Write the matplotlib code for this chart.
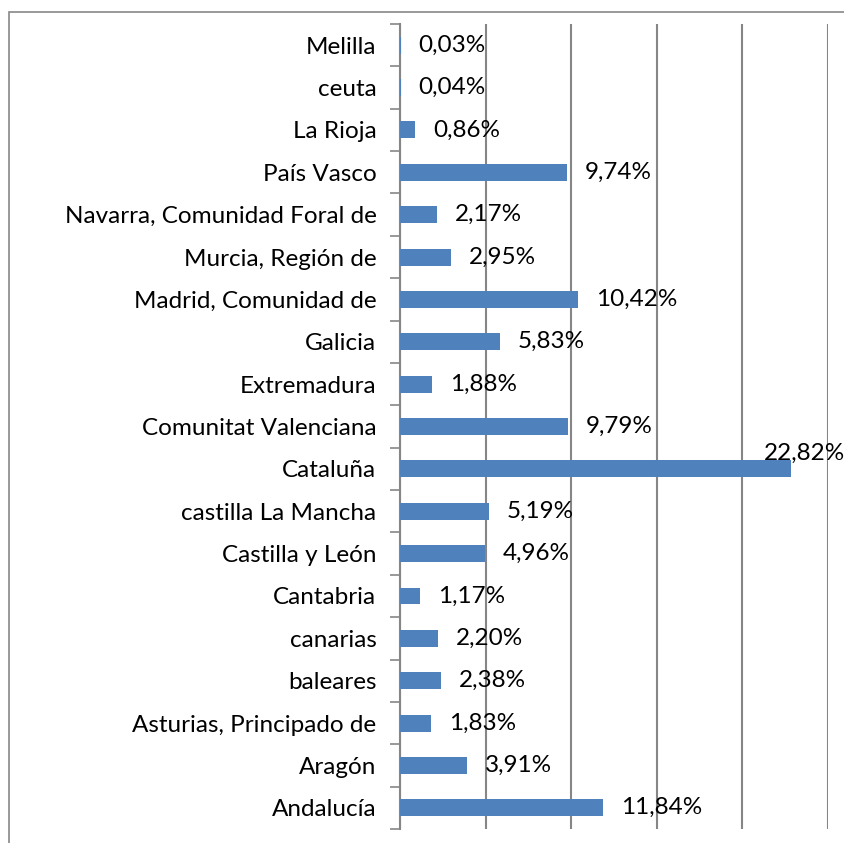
"""Horizontal bar chart: share per comunidad autónoma."""

import matplotlib
matplotlib.use("Agg")
import matplotlib.pyplot as plt
from matplotlib.patches import Rectangle

# Categories listed bottom-to-top as they appear on the axis
REGIONS = [
    "Andalucía", "Aragón", "Asturias, Principado de", "baleares", "canarias",
    "Cantabria", "Castilla y León", "castilla La Mancha", "Cataluña",
    "Comunitat Valenciana", "Extremadura", "Galicia", "Madrid, Comunidad de",
    "Murcia, Región de", "Navarra, Comunidad Foral de", "País Vasco",
    "La Rioja", "ceuta", "Melilla",
]
SHARES = [
    11.84, 3.91, 1.83, 2.38, 2.20, 1.17, 4.96, 5.19, 22.82,
    9.79, 1.88, 5.83, 10.42, 2.95, 2.17, 9.74, 0.86, 0.04, 0.03,
]
X_TICKS = [0, 5, 10, 15, 20, 25]

BAR_COLOR = "#4F81BD"
GRID_COLOR = "#868686"
FONT_SIZE = 17.5

plt.rcParams["font.family"] = ["Lato", "DejaVu Sans"]

W, H = 844, 843
fig = plt.figure(figsize=(W / 100, H / 100), dpi=100)
ax = fig.add_axes([400 / W, 1 - 829 / H, (828 - 400) / W, (829 - 24) / H])

positions = list(range(len(REGIONS)))
ax.barh(positions, SHARES, height=0.4, color=BAR_COLOR, zorder=3)

for pos, val in zip(positions, SHARES):
    label = f"{val:.2f}".replace(".", ",") + "%"
    # labels that would run past the plot area sit above the bar end
    offset = (-19, 11) if val > 20 else (13, 0)
    ax.annotate(label, xy=(val, pos), xytext=offset, textcoords="offset points",
                ha="left", va="center", fontsize=FONT_SIZE, color="black", zorder=4)

ax.set_xlim(0, 25)
ax.set_ylim(-0.5, len(REGIONS) - 0.5)
ax.set_xticks(X_TICKS)
ax.xaxis.grid(True, color=GRID_COLOR, linewidth=1.5, zorder=0)
ax.tick_params(axis="x", length=0, labelbottom=False)

ax.set_yticks(positions)
ax.set_yticklabels(REGIONS, fontsize=FONT_SIZE)
ax.set_yticks([p - 0.5 for p in positions] + [len(REGIONS) - 0.5], minor=True)
ax.tick_params(axis="y", which="major", length=0, pad=17)
ax.tick_params(axis="y", which="minor", length=7, width=1.2, color=GRID_COLOR)

for side in ("top", "right", "bottom"):
    ax.spines[side].set_visible(False)
ax.spines["left"].set_color(GRID_COLOR)
ax.spines["left"].set_linewidth(1.5)

# outer chart border, cut off at the right and bottom edges
fig.patches.append(Rectangle((9 / W, -0.1), 2.0, 1.1 - 12 / H, transform=fig.transFigure,
                             fill=False, edgecolor="#878787", linewidth=1.2))

fig.savefig("out.png", dpi=100)
